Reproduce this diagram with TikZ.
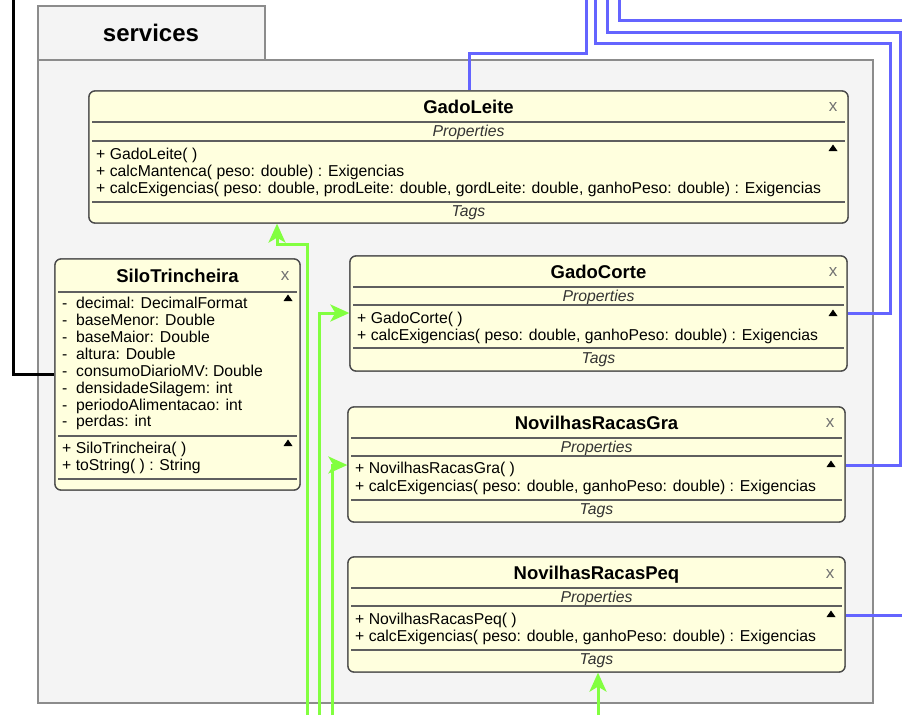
\documentclass[tikz,border=0pt]{standalone}
\usepackage{fontspec}
\setmainfont{Liberation Sans}
\usetikzlibrary{arrows.meta,fit}

\definecolor{pkgfill}{RGB}{244,244,244}
\definecolor{pkgline}{RGB}{140,140,140}
\definecolor{classfill}{RGB}{255,255,222}
\definecolor{classline}{RGB}{75,75,75}
\definecolor{sepcol}{RGB}{95,95,95}
\definecolor{assoc}{RGB}{100,100,255}
\definecolor{inherit}{RGB}{130,255,64}
\definecolor{closex}{RGB}{115,115,115}

\tikzset{
  pkgbox/.style={draw=pkgline, fill=pkgfill, line width=1.1pt},
  classbox/.style={draw=classline, line width=1.3pt, fill=classfill,
    rounded corners=6pt, inner sep=0pt},
  sepline/.style={draw=sepcol, line width=1.2pt},
  ctitle/.style={font=\fontsize{18.5}{20}\selectfont\bfseries, anchor=mid, inner sep=0pt, yshift=-3.5pt},
  cmember/.style={font=\fontsize{15.75}{17}\selectfont, anchor=mid west, inner sep=0pt, yshift=-2.5pt},
  csection/.style={font=\fontsize{15.75}{17}\selectfont\itshape, anchor=mid, inner sep=0pt, text=black!80, yshift=-2.5pt},
  closemark/.style={font=\fontsize{17}{18}\selectfont, text=closex, anchor=mid, inner sep=0pt, yshift=-3pt},
  pkgtitle/.style={font=\fontsize{24}{26}\selectfont\bfseries, anchor=mid, inner sep=0pt, yshift=-5.5pt},
  assocline/.style={draw=assoc, line width=3pt},
  genline/.style={draw=inherit, line width=3pt,
    -{Stealth[length=19pt,width=17pt,inset=5pt]}},
  blackline/.style={draw=black, line width=3pt}
}

% small "collapse" triangle of a compartment
\newcommand\collapsetri[2]{\fill[black] (#1-4.5,#2+3) -- (#1+4.5,#2+3) -- (#1,#2-3.5) -- cycle;}

\begin{document}
\begin{tikzpicture}[x=1pt,y=-1pt]
\useasboundingbox (0,0) rectangle (902,715);

% ---- package "services" ----
\node[pkgbox, fit={(38,60) (873,703)}, inner sep=0pt] (pkg) {};
\node[pkgbox, fit={(38,6) (265,60)}, inner sep=0pt] (pkgtab) {};
\node[pkgtitle] (pkgname) at (151,33) {services};

% ---- class frames ----
\node[classbox, fit={(89,91) (848,223)}] (gl) {};
\node[classbox, fit={(55,259) (300,490)}] (st) {};
\node[classbox, fit={(350,256) (847,371)}] (gc) {};
\node[classbox, fit={(348,407) (845,522)}] (ng) {};
\node[classbox, fit={(348,557) (845,672)}] (np) {};

% ---- free ends of connectors ----
\coordinate (topA) at (586,0);
\coordinate (topB) at (595,0);
\coordinate (topC) at (607,0);
\coordinate (topD) at (619,0);
\coordinate (rightD) at (905,20);
\coordinate (rightE) at (905,615);
\coordinate (topK) at (13,0);
\coordinate (botA) at (307,715);
\coordinate (botB) at (319,715);
\coordinate (botC) at (332,715);
\coordinate (botD) at (598,715);
\coordinate (xA) at (469,0);
\coordinate (xG) at (277,0);
\coordinate (yB) at (0,313);
\coordinate (yC) at (0,465);
\coordinate (yE) at (0,615);
\coordinate (yK) at (0,374);

% ---- associations (blue) ----
\draw[assocline] (gl.north -| xA) -- (469,53) -- (586,53) -- (topA);
\draw[assocline] (gc.east |- yB) -- (890,313) -- (890,43) -- (595,43) -- (topB);
\draw[assocline] (ng.east |- yC) -- (900.5,465) -- (900.5,32) -- (607,32) -- (topC);
\draw[assocline] (topD) -- (619,20) -- (rightD);
\draw[assocline] (np.east |- yE) -- (rightE);

% ---- dependency from outside (black) ----
\draw[blackline] (topK) -- (13,374) -- (st.west |- yK);

% ---- generalisations (green) ----
\draw[genline] (botA) -- (307,244) -- (277,244) -- (gl.south -| xG);
\draw[genline] (botB) -- (319,313) -- (gc.west |- yB);
\draw[genline] (botC) -- (332,465) -- (ng.west |- yC);
\draw[genline] (botD) -- (np.south -| botD);

% ---- redraw frames above connectors ----
\node[classbox, fit={(89,91) (848,223)}] (glf) {};
\node[classbox, fit={(55,259) (300,490)}] (stf) {};
\node[classbox, fit={(350,256) (847,371)}] (gcf) {};
\node[classbox, fit={(348,407) (845,522)}] (ngf) {};
\node[classbox, fit={(348,557) (845,672)}] (npf) {};

% ================= GadoLeite =================
\node[ctitle] (gl-t) at (468.5,107) {GadoLeite};
\node[closemark] (gl-x) at (833,106) {x};
\draw[sepline] (92,122) -- (845,122);
\node[csection] (gl-p) at (468.5,131) {Properties};
\draw[sepline] (92,141) -- (845,141);
\collapsetri{833}{148}
\node[cmember] (gl-m1) at (96,154) {+ GadoLeite( )};
\node[cmember] (gl-m2) at (96,171) {+ calcMantenca( peso: double) : Exigencias};
\node[cmember] (gl-m3) at (96,188) {+ calcExigencias( peso: double, prodLeite: double, gordLeite: double, ganhoPeso: double) : Exigencias};
\draw[sepline] (92,202) -- (845,202);
\node[csection] (gl-g) at (468.5,211) {Tags};

% ================= SiloTrincheira =================
\node[ctitle] (st-t) at (177.5,276) {SiloTrincheira};
\node[closemark] (st-x) at (285,275) {x};
\draw[sepline] (58,292) -- (297,292);
\collapsetri{288}{298}
\node[cmember] (st-a1) at (62,303) {-};
\node[cmember] (st-a1n) at (76,303) {decimal: DecimalFormat};
\node[cmember] (st-a2) at (62,320) {-};
\node[cmember] (st-a2n) at (76,320) {baseMenor: Double};
\node[cmember] (st-a3) at (62,337) {-};
\node[cmember] (st-a3n) at (76,337) {baseMaior: Double};
\node[cmember] (st-a4) at (62,354) {-};
\node[cmember] (st-a4n) at (76,354) {altura: Double};
\node[cmember] (st-a5) at (62,371) {-};
\node[cmember] (st-a5n) at (76,371) {consumoDiarioMV: Double};
\node[cmember] (st-a6) at (62,388) {-};
\node[cmember] (st-a6n) at (76,388) {densidadeSilagem: int};
\node[cmember] (st-a7) at (62,405) {-};
\node[cmember] (st-a7n) at (76,405) {periodoAlimentacao: int};
\node[cmember] (st-a8) at (62,421) {-};
\node[cmember] (st-a8n) at (76,421) {perdas: int};
\draw[sepline] (58,436) -- (297,436);
\collapsetri{288}{443}
\node[cmember] (st-m1) at (62,448) {+ SiloTrincheira( )};
\node[cmember] (st-m2) at (62,465) {+ toString( ) : String};
\draw[sepline] (58,479) -- (297,479);

% ================= GadoCorte =================
\node[ctitle] (gc-t) at (598.5,272) {GadoCorte};
\node[closemark] (gc-x) at (833,271) {x};
\draw[sepline] (353,287) -- (844,287);
\node[csection] (gc-p) at (598.5,296) {Properties};
\draw[sepline] (353,305) -- (844,305);
\collapsetri{833}{313}
\node[cmember] (gc-m1) at (357,318) {+ GadoCorte( )};
\node[cmember] (gc-m2) at (357,335) {+ calcExigencias( peso: double, ganhoPeso: double) : Exigencias};
\draw[sepline] (353,348) -- (844,348);
\node[csection] (gc-g) at (598.5,358) {Tags};

% ================= NovilhasRacasGra =================
\node[ctitle] (ng-t) at (596.5,423) {NovilhasRacasGra};
\node[closemark] (ng-x) at (830,422) {x};
\draw[sepline] (351,438) -- (842,438);
\node[csection] (ng-p) at (596.5,447) {Properties};
\draw[sepline] (351,456) -- (842,456);
\collapsetri{831}{464}
\node[cmember] (ng-m1) at (355,468) {+ NovilhasRacasGra( )};
\node[cmember] (ng-m2) at (355,486) {+ calcExigencias( peso: double, ganhoPeso: double) : Exigencias};
\draw[sepline] (351,500) -- (842,500);
\node[csection] (ng-g) at (596.5,509) {Tags};

% ================= NovilhasRacasPeq =================
\node[ctitle] (np-t) at (596.5,573) {NovilhasRacasPeq};
\node[closemark] (np-x) at (830,573) {x};
\draw[sepline] (351,588) -- (842,588);
\node[csection] (np-p) at (596.5,597) {Properties};
\draw[sepline] (351,606) -- (842,606);
\collapsetri{831}{614}
\node[cmember] (np-m1) at (355,619) {+ NovilhasRacasPeq( )};
\node[cmember] (np-m2) at (355,636) {+ calcExigencias( peso: double, ganhoPeso: double) : Exigencias};
\draw[sepline] (351,650) -- (842,650);
\node[csection] (np-g) at (596.5,659) {Tags};

\end{tikzpicture}
\end{document}
